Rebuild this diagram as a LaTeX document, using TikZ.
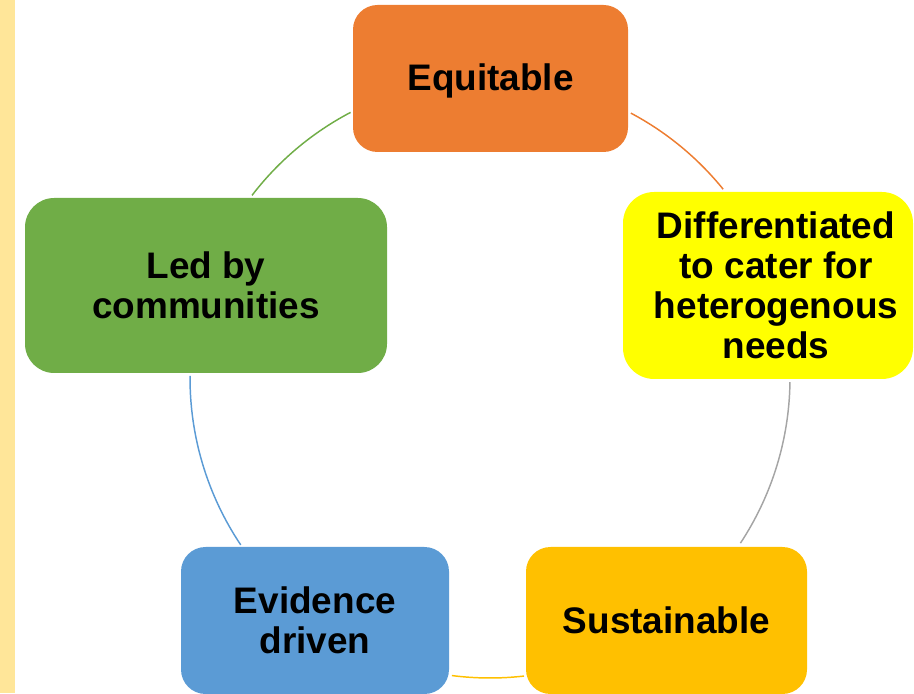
\documentclass[tikz,border=0pt]{standalone}
\usepackage{fontspec}
\setmainfont{Liberation Sans}
\definecolor{cOrange}{HTML}{ED7D31}
\definecolor{cYellow}{HTML}{FFFF00}
\definecolor{cGold}{HTML}{FFC000}
\definecolor{cBlue}{HTML}{5B9BD5}
\definecolor{cGreen}{HTML}{70AD47}
\definecolor{cGray}{HTML}{A5A5A5}
\definecolor{cStrip}{HTML}{FFE699}
\begin{document}
\begin{tikzpicture}[x=0.75pt,y=0.75pt,
  cbox/.style={inner sep=0pt, align=center, text=black,
    font=\bfseries\fontsize{27.7}{30}\selectfont},
  ring/.style={line width=1.1pt}]
\useasboundingbox (0,0) rectangle (914,693);
\fill[cStrip] (0,0) rectangle (15,693);
\coordinate (c) at (490,315);
% boxes
\node[cbox, fill=cOrange, rounded corners=18.4pt, minimum width=206.25pt, minimum height=110.25pt] (equ) at (490.5,614.5) {};
\node[cbox] (equt) at (490.5,612.5) {Equitable};
\node[cbox, fill=cYellow, rounded corners=23.4pt, minimum width=217.5pt, minimum height=140.25pt] (diff) at (768,407.5) {};
\node[cbox] (difft) at (776,407.5) {Differentiated\\to cater for\\heterogenous\\needs};
\node[cbox, fill=cGold, rounded corners=18.4pt, minimum width=210.75pt, minimum height=110.25pt] (sus) at (666.5,72.5) {Sustainable};
\node[cbox, fill=cBlue, rounded corners=18.4pt, minimum width=201pt, minimum height=110.25pt] (evi) at (315,72.5) {Evidence\\driven};
\node[cbox, fill=cGreen, rounded corners=21.9pt, minimum width=271.5pt, minimum height=131.25pt] (led) at (206,407.5) {Led by\\communities};
% ring arcs
\draw[ring, cGreen] (c) ++(142.5:300) arc[start angle=142.5, end angle=117.7, radius=300];
\draw[ring, cOrange] (c) ++(62:300) arc[start angle=62, end angle=39, radius=300];
\draw[ring, cGray] (c) ++(-0.8:300) arc[start angle=-0.8, end angle=-33.4, radius=300];
\draw[ring, cGold] (c) ++(-83.5:300) arc[start angle=-83.5, end angle=-97.3, radius=300];
\draw[ring, cBlue] (c) ++(-146.2:300) arc[start angle=-146.2, end angle=-180.4, radius=300];
\end{tikzpicture}
\end{document}
